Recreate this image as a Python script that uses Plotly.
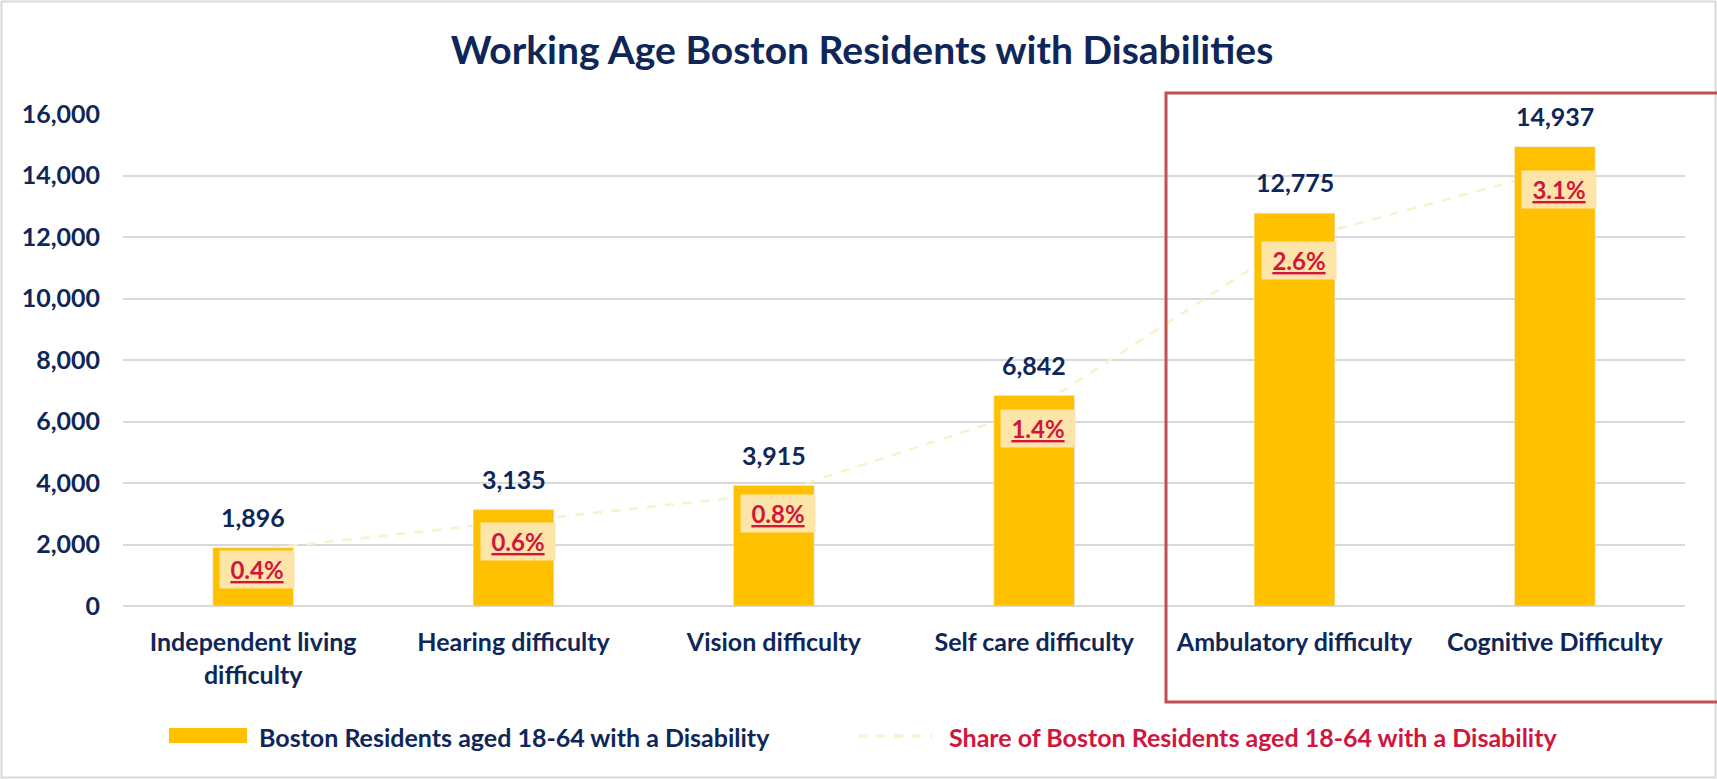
import plotly.graph_objects as go

categories = ["Independent living<br>difficulty", "Hearing difficulty", "Vision difficulty",
              "Self care difficulty", "Ambulatory difficulty", "Cognitive Difficulty"]
residents = [1896, 3135, 3915, 6842, 12775, 14937]
share_pct = [0.4, 0.6, 0.8, 1.4, 2.6, 3.1]
y_ticks = [0, 2000, 4000, 6000, 8000, 10000, 12000, 14000, 16000]

NAVY = "#0F2758"
CRIMSON = "#D0163E"
BAR = "#FFC000"
FONT = "Lato"

W, H = 1717, 779
L, R, T, B = 123, 32, 114, 173
pw, ph = W - L - R, H - T - B


def px(x):
    return (x - L) / pw


def py(y):
    return (H - B - y) / ph


fig = go.Figure()

# share line (drawn underneath the bars, on hidden primary axis)
fig.add_trace(go.Scatter(
    x=categories, y=share_pct, mode="lines", yaxis="y",
    line=dict(color="#FBF0CC", width=2.5, dash="dash"),
    name="Share of Boston Residents aged 18-64 with a Disability",
    showlegend=False, hoverinfo="skip",
))

fig.add_trace(go.Bar(
    x=categories, y=residents, yaxis="y2", marker_color=BAR,
    name="Boston Residents aged 18-64 with a Disability",
    showlegend=False,
))

annotations = []
for c, v in zip(categories, residents):
    annotations.append(dict(
        x=c, y=v, xref="x", yref="y2", yanchor="bottom", yshift=14,
        text=f"{v:,}", showarrow=False,
        font=dict(family=FONT, size=25, color=NAVY, weight=700),
    ))
for c, s in zip(categories, share_pct):
    annotations.append(dict(
        x=c, y=s, xref="x", yref="y", yanchor="top", xshift=4, yshift=0,
        text=f"<u>{s}%</u>", showarrow=False, bgcolor="#FDE4A9",
        width=66, borderpad=4,
        font=dict(family=FONT, size=24, color=CRIMSON, weight=700),
    ))

# legend (manual)
annotations.append(dict(
    x=px(257), y=py(737), xref="paper", yref="paper", xanchor="left", yanchor="middle",
    text="Boston Residents aged 18-64 with a Disability", showarrow=False,
    font=dict(family=FONT, size=25, color=NAVY, weight=700),
))
annotations.append(dict(
    x=px(947), y=py(737), xref="paper", yref="paper", xanchor="left", yanchor="middle",
    text="Share of Boston Residents aged 18-64 with a Disability", showarrow=False,
    font=dict(family=FONT, size=25, color=CRIMSON, weight=700),
))

shapes = [
    dict(type="rect", xref="paper", yref="paper", x0=px(169), x1=px(247), y0=py(743), y1=py(728),
         fillcolor=BAR, line=dict(width=0)),
    dict(type="line", xref="paper", yref="paper", x0=px(858), x1=px(932), y0=py(736), y1=py(736),
         line=dict(color="#FBF0CC", width=3, dash="dash")),
    # outer chart frame
    dict(type="rect", xref="paper", yref="paper", x0=px(1.5), x1=px(W - 1.5), y0=py(H - 1.5), y1=py(1.5),
         line=dict(color="#D9D9D9", width=2), fillcolor="rgba(0,0,0,0)", layer="below"),
    # red highlight box
    dict(type="rect", xref="paper", yref="paper", x0=px(1166), x1=px(W + 5), y0=py(702), y1=py(93),
         line=dict(color="#C0504D", width=3), fillcolor="rgba(0,0,0,0)"),
]

fig.update_layout(
    width=W, height=H,
    margin=dict(l=L, r=R, t=T, b=B),
    paper_bgcolor="white", plot_bgcolor="white",
    bargap=0.69,
    title=dict(text="Working Age Boston Residents with Disabilities",
               x=px(862), xref="paper", xanchor="center",
               y=1 - 50 / H, yref="container", yanchor="middle",
               font=dict(family=FONT, size=39, color=NAVY, weight=700)),
    xaxis=dict(
        type="category", showgrid=False, zeroline=False, showline=False,
        tickfont=dict(family=FONT, size=25, color=NAVY, weight=700),
        ticklabelstandoff=19,
    ),
    yaxis=dict(range=[0, 3.5], visible=False, showgrid=False, zeroline=False),
    yaxis2=dict(
        overlaying="y", side="left", range=[0, 16000], tickvals=y_ticks,
        tickformat=",", showgrid=True, gridcolor="#D9D9D9", gridwidth=1.5,
        zeroline=True, zerolinecolor="#D9D9D9", zerolinewidth=1.5,
        tickfont=dict(family=FONT, size=25, color=NAVY, weight=700),
        ticklabelstandoff=22,
    ),
    annotations=annotations,
    shapes=shapes,
    showlegend=False,
)

fig.write_html("out.html", config={"displayModeBar": False},
               post_script="document.body.style.margin='0';")
